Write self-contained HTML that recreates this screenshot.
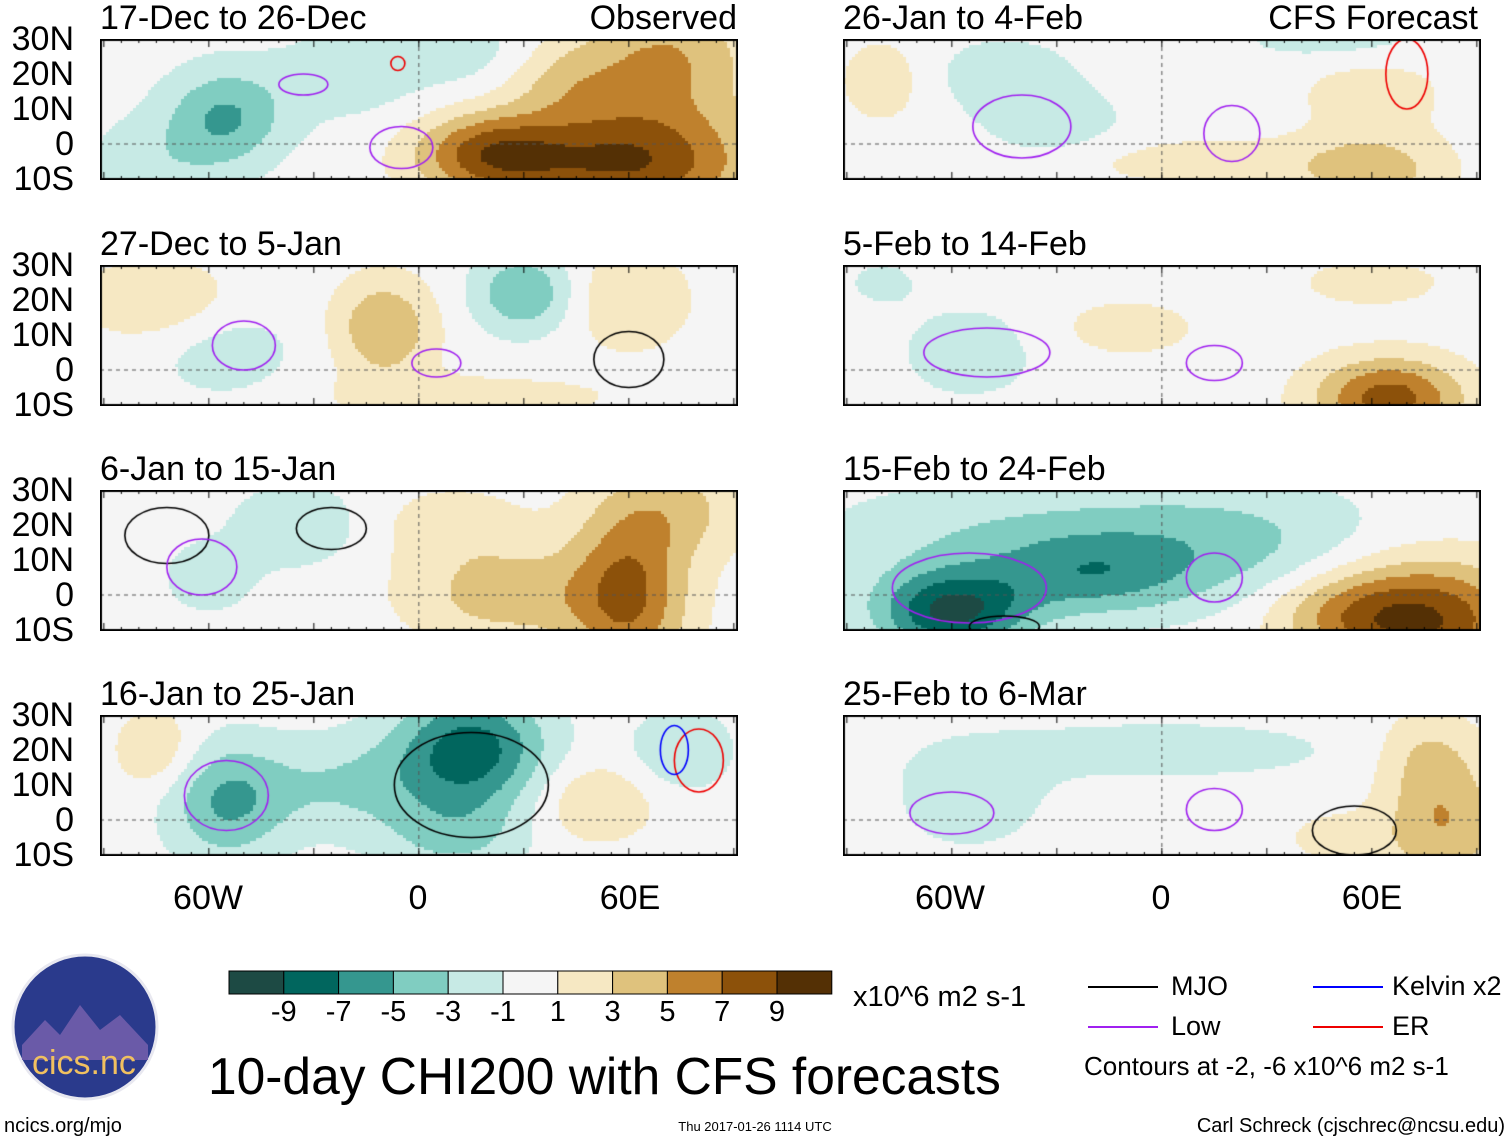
<!DOCTYPE html>
<html><head><meta charset="utf-8">
<style>
body{margin:0;background:#fff;width:1510px;height:1142px;position:relative;overflow:hidden;font-family:"Liberation Sans",Arial,sans-serif;color:#000}
.t{position:absolute;white-space:nowrap;line-height:1}
canvas{position:absolute}
</style></head><body>
<div id="root"></div>
<script>
// Data: anomaly blobs per panel [lon, lat, amplitude, sigmaLon, sigmaLat]
const panelTitles=["17-Dec to 26-Dec","26-Jan to 4-Feb","27-Dec to 5-Jan","5-Feb to 14-Feb","6-Jan to 15-Jan","15-Feb to 24-Feb","16-Jan to 25-Jan","25-Feb to 6-Mar"];
const blobs1=[[60,-5,9,25,12],[20,-3,7,15,8],[70,25,5,18,12],[40,20,3,12,8],[-55,8,-5,12,10],[-20,20,-2,15,10],[20,25,-2,20,8],[-75,-5,-2,15,10]];
const blobs2=[[60,-8,4,15,8],[-80,18,2.5,8,8],[10,-5,2,30,5],[60,15,2,15,8],[-45,20,-2,15,8],[-30,5,-2,15,8],[50,30,-2,20,5]];
const blobs3=[[-10,12,5,10,10],[-75,20,3,15,8],[60,20,3,12,10],[15,-8,2,30,5],[30,22,-5,10,8],[-55,5,-2,15,10]];
const blobs4=[[65,-8,8,15,8],[-10,12,2,15,6],[60,25,2,15,5],[-55,5,-2,15,10],[-80,25,-1.5,8,5]];
const blobs5=[[60,0,7,12,18],[25,0,4,20,10],[75,25,3,15,10],[10,20,2,15,8],[-35,20,-3,12,8],[-60,5,-2,10,8]];
const blobs6=[[-60,-5,-9,15,8],[-20,5,-4,20,8],[-40,15,-3,40,12],[20,15,-3,30,12],[75,-7,9,20,12],[50,-5,3,15,8]];
const blobs7=[[15,20,-8,15,12],[-55,5,-5,12,12],[-20,10,-3,20,10],[10,-5,-3,15,8],[75,20,-3,10,8],[-75,20,3,8,8],[50,5,3,12,8]];
const blobs8=[[-55,5,-2,15,10],[0,20,-1.5,50,8],[80,0,5,12,15],[75,20,2,10,8],[50,-5,2,10,5]];
const allBlobs=[blobs1,blobs2,blobs3,blobs4,blobs5,blobs6,blobs7,blobs8];
// contours: [lon, lat, rxDeg, ryDeg, color]
const contours=[
 [[-33,17,7,3,"#a020f0"],[-5,-1,9,6,"#a020f0"],[-6,23,2,2,"#e00"]],
 [[-40,5,14,9,"#a020f0"],[20,3,8,8,"#a020f0"],[70,20,6,10,"#e00"]],
 [[-50,7,9,7,"#a020f0"],[5,2,7,4,"#a020f0"],[60,3,10,8,"#000"]],
 [[-50,5,18,7,"#a020f0"],[15,2,8,5,"#a020f0"]],
 [[-72,17,12,8,"#000"],[-25,19,10,6,"#000"],[-62,8,10,8,"#a020f0"]],
 [[-55,2,22,10,"#a020f0"],[15,5,8,7,"#a020f0"],[-45,-9,10,3,"#000"]],
 [[-55,7,12,10,"#a020f0"],[15,10,22,15,"#000"],[80,17,7,9,"#e00"],[73,20,4,7,"#00f"]],
 [[-60,2,12,6,"#a020f0"],[15,3,8,6,"#a020f0"],[55,-3,12,7,"#000"]]
];
const levels=[-9,-7,-5,-3,-1,1,3,5,7,9];
const colors=["#1d4a44","#01665e","#35978f","#80cdc1","#c7eae5","#f5f5f5","#f6e8c3","#dfc27d","#bf812d","#8c510a","#543005"];
const cbLabels=["-9","-7","-5","-3","-1","1","3","5","7","9"];

function txt(s,x,y,fs,name,anchor){const d=document.createElement('div');d.className='t';d.textContent=s;d.style.fontSize=fs+'px';d.style.top=y+'px';
 if(anchor==='r'){d.style.right=(1510-x)+'px';}else if(anchor==='c'){d.style.left=x+'px';d.style.transform='translateX(-50%)';}else d.style.left=x+'px';
 
 
 document.body.appendChild(d);return d;}
function colorFor(v){let i=0;while(i<levels.length&&v>levels[i])i++;return colors[i];}
const PW=638,PH=141,PPD=3.5;
const colX=[100,843],rowY=[39,265,490,715];
for(let p=0;p<8;p++){
 const X=colX[p%2],Y=rowY[Math.floor(p/2)];
 const cv=document.createElement('canvas');cv.width=PW;cv.height=PH;cv.style.left=X+'px';cv.style.top=Y+'px';
 
 
 document.body.appendChild(cv);
 const c=cv.getContext('2d');const lon0=-91.1,lat0=30;
 const lonOf=x=>lon0+x/PPD, latOf=y=>lat0-y/PPD;
 const B=allBlobs[p];
 for(let y=0;y<PH;y+=3)for(let x=0;x<PW;x+=3){
  const lo=lonOf(x+1.5),la=latOf(y+1.5);let v=0;
  for(const b of B){const dx=(lo-b[0])/b[3],dy=(la-b[1])/b[4];v+=b[2]*Math.exp(-0.5*(dx*dx+dy*dy));}
  c.fillStyle=colorFor(v);c.fillRect(x,y,3,3);}
 c.strokeStyle="#555";c.setLineDash([4,4]);c.lineWidth=1;
 const ey=(lat0-0)*PPD;c.beginPath();c.moveTo(0,ey);c.lineTo(PW,ey);c.stroke();
 const mx=(0-lon0)*PPD;c.beginPath();c.moveTo(mx,0);c.lineTo(mx,PH);c.stroke();
 c.setLineDash([]);
 c.lineWidth=1.6;
 for(const k of contours[p]){c.strokeStyle=k[4];c.beginPath();c.ellipse((k[0]-lon0)*PPD,(lat0-k[1])*PPD,k[2]*PPD,k[3]*PPD,0,0,Math.PI*2);c.stroke();}
 c.strokeStyle="#000";c.lineWidth=2;c.strokeRect(1,1,PW-2,PH-2);c.lineWidth=1;
 for(let lo=-90;lo<=90;lo+=5){const x=(lo-lon0)*PPD;const L=lo%30===0?8:4;c.beginPath();c.moveTo(x,0);c.lineTo(x,L);c.moveTo(x,PH);c.lineTo(x,PH-L);c.stroke();}
 txt(panelTitles[p],X,Y-38,34,'panel-title-'+(p+1));
 if(p%2===0){["30N","20N","10N","0","10S"].forEach((s,i)=>txt(s,74,Y-17+i*35,34,'lat-label','r'));}
}
txt("Observed",737,1,34,'observed-label','r');
txt("CFS Forecast",1478,1,34,'cfs-forecast-label','r');
[[208,"60W"],[418,"0"],[630,"60E"],[950,"60W"],[1161,"0"],[1372,"60E"]].forEach(a=>txt(a[1],a[0],881,34,'lon-label','c'));
const cb=document.createElementNS("http://www.w3.org/2000/svg","svg");
cb.setAttribute('width','620');cb.setAttribute('height','30');cb.style.position='absolute';cb.style.left='226px';cb.style.top='968px';


colors.forEach((col,i)=>{const r=document.createElementNS("http://www.w3.org/2000/svg","rect");r.setAttribute('x',3+i*54.8);r.setAttribute('y',3);r.setAttribute('width',54.8);r.setAttribute('height',23);r.setAttribute('fill',col);r.setAttribute('stroke','#000');
 
 
 cb.appendChild(r);});
document.body.appendChild(cb);
cbLabels.forEach((s,i)=>txt(s,229+54.8*(i+1),998,29,'colorbar-tick','c'));
txt("x10^6 m2 s-1",853,983,29,'colorbar-units');
txt("10-day CHI200 with CFS forecasts",208,1051,51.5,'main-title');
const lg=document.createElementNS("http://www.w3.org/2000/svg","svg");
lg.setAttribute('width','1510');lg.setAttribute('height','1142');lg.style.position='absolute';lg.style.left='0';lg.style.top='0';


[[1088,987,"#000"],[1088,1027,"#a020f0"],[1313,987,"#00f"],[1313,1027,"#e00"]].forEach(a=>{const l=document.createElementNS("http://www.w3.org/2000/svg","line");l.setAttribute('x1',a[0]);l.setAttribute('x2',a[0]+70);l.setAttribute('y1',a[1]);l.setAttribute('y2',a[1]);l.setAttribute('stroke',a[2]);l.setAttribute('stroke-width','2');lg.appendChild(l);});
const cir=document.createElementNS("http://www.w3.org/2000/svg","circle");cir.setAttribute('cx','85');cir.setAttribute('cy','1027');cir.setAttribute('r','72');cir.setAttribute('fill','#2a3a8c');cir.setAttribute('stroke','#e8e8f0');cir.setAttribute('stroke-width','3');


lg.appendChild(cir);
const m=document.createElementNS("http://www.w3.org/2000/svg","path");m.setAttribute('d','M22,1045 L45,1020 L60,1035 L80,1005 L100,1030 L120,1015 L148,1045 L148,1060 L22,1060 Z');m.setAttribute('fill','#6a5aa8');lg.appendChild(m);
document.body.appendChild(lg);
const lt=txt("cics.nc",32,1046,34,'logo-text');lt.style.color='#f0c060';
txt("MJO",1171,973,27,'legend-mjo');
txt("Low",1171,1013,27,'legend-low');
txt("Kelvin x2",1392,973,27,'legend-kelvin');
txt("ER",1392,1013,27,'legend-er');
txt("Contours at -2, -6 x10^6 m2 s-1",1084,1053,26,'contour-note');
txt("ncics.org/mjo",4,1116,20,'url-label');
txt("Thu 2017-01-26 1114 UTC",755,1120,13,'timestamp','c');
txt("Carl Schreck (cjschrec@ncsu.edu)",1505,1116,20,'author-label','r');
</script>
</body></html>
